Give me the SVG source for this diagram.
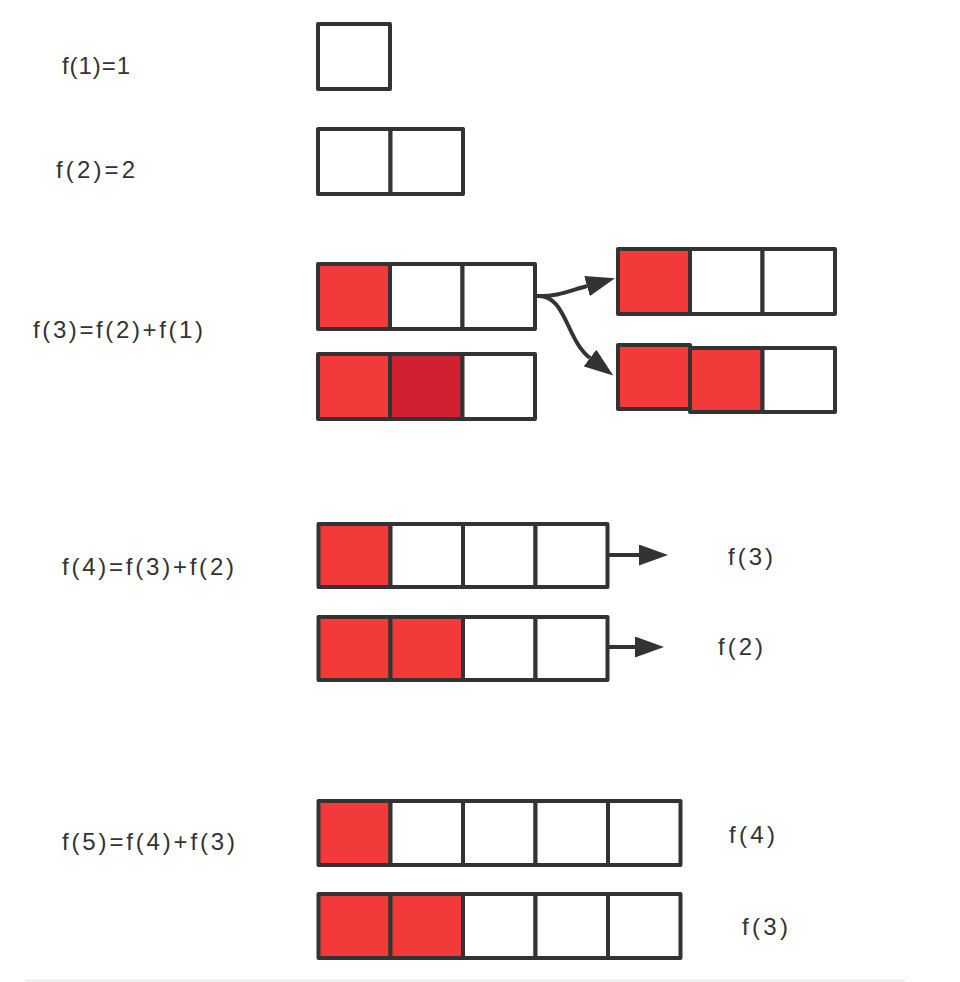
<svg xmlns="http://www.w3.org/2000/svg" width="960" height="982" viewBox="0 0 960 982">
<defs>
<style>
.c{fill:#ffffff;stroke:#333333;stroke-width:4;stroke-linejoin:round}
.r{fill:#f23a3a;stroke:#333333;stroke-width:4;stroke-linejoin:round}
.d{fill:#d12131;stroke:#333333;stroke-width:4;stroke-linejoin:round}
.t{font-family:"Liberation Sans","Noto Sans",Arial,sans-serif;font-size:24px;fill:#333333}
.e{fill:none;stroke:#333333;stroke-width:4}
</style>
<marker id="ah" viewBox="0 0 10 10" refX="0" refY="5" markerWidth="29" markerHeight="21" markerUnits="userSpaceOnUse" orient="auto" preserveAspectRatio="none">
<path d="M0,0 L10,5 L0,10 z" fill="#333333"/>
</marker>
</defs>
<rect width="960" height="982" fill="#ffffff"/>
<line x1="25" y1="980.5" x2="905" y2="980.5" stroke="#ececec" stroke-width="2"/>

<g id="labels">
<text class="t" x="62" y="74" textLength="68" lengthAdjust="spacing">f(1)=1</text>
<text class="t" x="56" y="178" textLength="79" lengthAdjust="spacing">f(2)=2</text>
<text class="t" x="33" y="338" textLength="170" lengthAdjust="spacing">f(3)=f(2)+f(1)</text>
<text class="t" x="62" y="575" textLength="172" lengthAdjust="spacing">f(4)=f(3)+f(2)</text>
<text class="t" x="62" y="850" textLength="173" lengthAdjust="spacing">f(5)=f(4)+f(3)</text>
<text class="t" x="728" y="565" textLength="45" lengthAdjust="spacing">f(3)</text>
<text class="t" x="718" y="655" textLength="45" lengthAdjust="spacing">f(2)</text>
<text class="t" x="729" y="843" textLength="46" lengthAdjust="spacing">f(4)</text>
<text class="t" x="742" y="935" textLength="46" lengthAdjust="spacing">f(3)</text>
</g>

<g id="f1">
<rect class="c" x="318" y="24" width="72" height="65"/>
</g>
<g id="f2">
<rect class="c" x="318" y="129" width="72.5" height="65"/>
<rect class="c" x="390.5" y="129" width="72.5" height="65"/>
</g>
<g id="f3a">
<rect class="r" x="318" y="264" width="72" height="65"/>
<rect class="c" x="390" y="264" width="72.5" height="65"/>
<rect class="c" x="462.5" y="264" width="72.5" height="65"/>
</g>
<g id="f3b">
<rect class="r" x="318" y="354" width="72" height="65"/>
<rect class="d" x="390" y="354" width="72.5" height="65"/>
<rect class="c" x="462.5" y="354" width="72.5" height="65"/>
</g>
<g id="f3c">
<rect class="r" x="618" y="249" width="72" height="65"/>
<rect class="c" x="690" y="249" width="72.5" height="65"/>
<rect class="c" x="762.5" y="249" width="72.5" height="65"/>
</g>
<g id="f3d">
<rect class="r" x="690" y="348" width="72.5" height="64"/>
<rect class="c" x="762.5" y="348" width="72.5" height="64"/>
<rect class="r" x="618" y="345" width="72" height="64"/>
</g>
<g id="f4a">
<rect class="r" x="318.5" y="524" width="72" height="63"/>
<rect class="c" x="390.5" y="524" width="72.5" height="63"/>
<rect class="c" x="463" y="524" width="72.5" height="63"/>
<rect class="c" x="535.5" y="524" width="72" height="63"/>
</g>
<g id="f4b">
<rect class="r" x="318.5" y="617" width="72" height="63"/>
<rect class="r" x="390.5" y="617" width="72.5" height="63"/>
<rect class="c" x="463" y="617" width="72.5" height="63"/>
<rect class="c" x="535.5" y="617" width="72" height="63"/>
</g>
<g id="f5a">
<rect class="r" x="318.5" y="801" width="72" height="64"/>
<rect class="c" x="390.5" y="801" width="72.5" height="64"/>
<rect class="c" x="463" y="801" width="72.5" height="64"/>
<rect class="c" x="535.5" y="801" width="72.5" height="64"/>
<rect class="c" x="608" y="801" width="72.5" height="64"/>
</g>
<g id="f5b">
<rect class="r" x="318.5" y="894" width="72" height="64"/>
<rect class="r" x="390.5" y="894" width="72.5" height="64"/>
<rect class="c" x="463" y="894" width="72.5" height="64"/>
<rect class="c" x="535.5" y="894" width="72.5" height="64"/>
<rect class="c" x="608" y="894" width="72.5" height="64"/>
</g>

<g id="connectors">
<path class="e" d="M537,296 C556,297 569,291 587,286" marker-end="url(#ah)"/>
<path class="e" d="M537,296 C566,294 566,340 590,358" marker-end="url(#ah)"/>
<path class="e" d="M608,555 L639,555" marker-end="url(#ah)"/>
<path class="e" d="M608,647 L635,647" marker-end="url(#ah)"/>
</g>
</svg>
